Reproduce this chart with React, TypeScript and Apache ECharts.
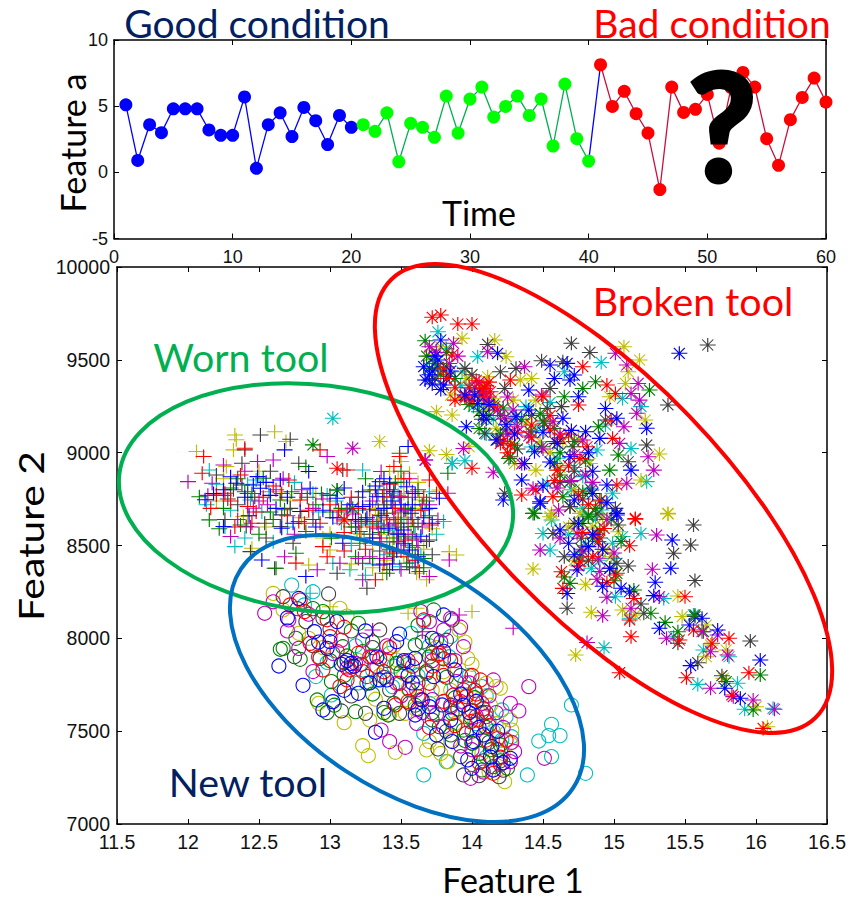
import React, { useEffect, useRef } from "react";
import * as echarts from "echarts";

const goodValues = [5.1,0.9,3.6,3.0,4.8,4.8,4.8,3.2,2.8,2.8,5.7,0.3,3.6,4.5,2.7,4.9,3.9,2.1,4.3,3.4];
const wornValues = [3.6,3.1,4.5,0.8,3.7,3.4,2.65,5.76,2.97,5.54,6.44,4.18,4.98,5.76,4.3,5.54,1.99,6.67,2.54,0.85];
const badValues = [8.13,4.98,6.12,4.43,2.97,-1.3,6.44,4.53,4.76,5.89,2.2,6.4,7.55,6.44,2.54,0.53,3.98,5.66,7.12,5.31];

const colorBlue = "#0000ff", colorGreen = "#008000", colorRed = "#ff0000", colorCyan = "#00bfbf", colorMagenta = "#bf00bf", colorYellow = "#bfbf00", colorGray = "#404040";

const newBlue = [12.64,7851,12.81,7747,12.78,8215,12.95,7614,13.02,7659,13.2,7704,13.32,7494,13.38,7623,13.49,8023,13.47,7982,12.89,8036,13.05,8090,13.0,7982,12.98,7946,13.15,7865,13.4,7776,13.6,7892,13.8,8126,13.73,7794,13.65,7668,13.79,7641,13.86,7444,13.97,7345,14.15,7291,14.27,7354,14.01,7444,13.6,7587,13.35,7776,14.14,7417,13.7,7632,13.12,7880,13.94,7640,14.05,7520,
12.7,8110,12.92,7980,13.08,7860,13.17,7850,13.25,8040,13.33,7900,13.52,7880,13.58,7760,13.72,8000,13.8,7930,13.88,7830,13.92,7700,13.98,7600,14.03,7660,14.08,7480,14.13,7360,14.18,7500,14.22,7330,14.0,7300,13.85,7560,13.75,7480,13.62,7620,13.55,7800,13.28,7760,13.1,7720];
const newGreen = [12.65,7941,12.79,7887,12.91,7668,13.18,7605,13.41,7587,13.73,8153,12.95,8144,13.2,8081,13.09,7955,13.01,7767,13.6,7964,13.23,7928,13.75,7991,13.68,7812,13.86,7596,14.0,7435,14.07,7291,14.15,7309,13.94,7506,13.77,7524,13.56,7722,13.26,7758,12.67,7946,13.99,7578,14.2,7426,13.47,7865,13.12,7905,13.03,7640,13.38,7600,
12.76,8000,12.88,8160,13.0,7880,13.15,8040,13.1,7800,13.3,7980,13.4,7880,13.5,7820,13.62,8070,13.7,7900,13.82,7790,13.88,7680,13.95,7450,14.02,7680,14.05,7380,14.1,7520,14.13,7400,14.2,7340,14.25,7300,13.85,7480,13.72,7600,13.6,7640,13.3,7700,13.45,7650,12.98,7600];
const newRed = [12.82,8144,13.66,8099,13.26,7794,13.07,7740,13.12,7776,13.49,7758,13.46,7641,13.87,7695,13.96,7686,13.99,7551,14.04,7560,14.1,7452,14.15,7273,13.77,7919,13.0,8009,13.3,7901,13.7,7758,12.95,7830,13.62,7686,13.94,7722,14.06,7776,12.79,8206,12.86,7973,14.24,7452,13.23,7821,13.35,7890,13.64,7670,14.0,7610,13.76,7910,
12.72,8180,12.92,7900,13.05,7930,13.14,7830,13.2,7920,13.38,7820,13.42,7950,13.55,7660,13.58,7850,13.72,7850,13.8,7800,13.85,7880,13.9,7620,14.0,7800,14.03,7700,14.08,7620,14.12,7530,14.18,7460,14.2,7360,14.05,7330,13.88,7530,13.7,7520,13.8,7660,13.1,8060,12.98,8100];
const newCyan = [14.70,7641,14.56,7537,14.47,7447,14.54,7476,14.62,7476,14.56,7363,14.39,7264,14.80,7273,13.66,7264,13.82,7336,12.73,8287,14.21,7614,13.66,8090,14.24,7578,12.9,7794,13.01,7695,13.66,7488,14.07,7740,13.42,7919,14.21,7452,13.84,7901,13.33,7776,13.57,8027,12.88,8251,14.03,7540,13.95,7760,
12.82,8180,12.98,7870,13.18,7960,13.3,7830,13.44,7740,13.55,7860,13.7,7960,13.78,7730,13.88,7600,13.98,7800,14.1,7690,14.12,7550,14.15,7500,14.28,7470,14.1,7360,13.7,7650,13.62,7800,13.2,7760,13.45,7850,13.85,8010];
const newMagenta = [12.54,8135,14.40,7740,14.27,7650,14.33,7609,14.51,7354,13.42,7444,13.53,7413,13.36,7506,13.99,7246,14.30,7390,14.27,7336,12.71,8099,12.6,8197,12.78,7946,12.88,7821,13.02,7919,13.23,7991,13.64,8144,13.85,8108,13.8,8045,13.94,7955,13.89,7767,14.15,7776,14.07,7650,13.61,7542,13.8,7524,13.61,7722,13.47,7758,13.33,7847,13.18,7865,14.1,7578,13.72,7670,13.92,8060,14.0,7400,
12.7,8040,12.85,8130,13.08,7990,13.12,7840,13.28,7900,13.4,7960,13.55,7880,13.7,8090,13.72,7880,13.78,7980,13.88,7880,13.92,7660,13.98,7760,14.03,7580,14.12,7690,14.17,7600,14.22,7520,14.2,7320,14.28,7440,14.08,7280,13.85,7630,13.75,7590,13.65,7600,13.5,7690,13.92,7420,14.0,7500];
const newYellow = [12.6,8242,13.23,7422,13.27,7368,13.46,7386,13.1,7546,12.92,7650,13.32,7672,13.53,7596,13.7,7444,13.68,7399,13.83,7336,14.23,7228,14.27,7435,13.91,8045,13.97,7892,13.07,8162,12.78,8027,13.47,7883,14.1,7758,14.17,7740,14.2,7731,14.28,7506,14.1,7470,13.96,7695,12.67,8153,14.27,7560,13.85,7880,13.55,7730,13.42,7590,14.07,7380,13.9,7620,
12.85,8000,12.95,7950,13.12,8120,13.2,7880,13.35,7800,13.52,7810,13.62,7880,13.72,7720,13.8,7820,13.85,7720,14.0,7860,14.05,7670,14.13,7640,14.17,7540,14.22,7380,14.12,7280,14.02,7560,13.85,7450,13.78,7380,13.6,7620,13.28,7560,13.75,7950,13.95,7980,13.45,7960,13.88,7540];
const newGray = [12.99,8239,12.67,8224,12.75,7901,13.08,7609,13.25,7596,13.35,8045,13.76,7404,13.94,7264,14.19,7255,13.86,8099,13.15,7847,12.93,7892,13.68,7821,13.56,7650,13.49,7596,14.0,7435,13.92,7363,12.95,8108,12.83,8090,13.42,7722,13.96,7488,13.8,7890,14.08,7340,
12.77,8160,12.88,7960,13.0,8050,13.1,7870,13.22,7860,13.3,7950,13.38,7790,13.52,7870,13.62,7760,13.72,7920,13.82,7990,13.85,7640,13.92,7800,14.02,7720,14.07,7600,14.12,7440,14.18,7400,14.22,7290,14.05,7260,13.82,7500,13.72,7560,13.15,7690,13.65,7980,14.1,7600];

const wornBlue = [12.68,9015,13.55,9033,12.49,8871,12.51,8808,12.46,8826,12.65,8853,12.34,8835,12.85,8898,12.86,8808,13.05,8754,13.23,8790,13.33,8763,13.42,8835,13.54,8817,13.77,8754,12.25,8602,12.66,8593,12.52,8422,13.09,8512,13.52,8584,13.56,8476,12.83,8333,13.35,8395,13.23,8710,12.79,8683,13.57,8674,12.12,8746,13.38,8700,
12.3,8870,12.4,8760,12.55,8840,12.7,8760,12.95,8690,13.1,8810,13.18,8640,13.28,8720,13.32,8820,13.36,8660,13.41,8590,13.45,8790,13.5,8720,13.47,8470,13.52,8510,13.6,8780,13.62,8440,13.66,8650,13.44,8400,13.3,8540,13.38,8860,13.7,8700,12.62,8700,12.9,8600,12.25,8800,
12.18,8780,12.43,8660,12.58,8770,12.74,8620,13.02,8650,13.14,8720,13.26,8650,13.43,8740,13.48,8560,13.58,8720,13.64,8550,13.72,8620];
const wornGreen = [12.15,8638,12.08,8763,12.65,8745,12.68,8692,12.53,8862,12.83,8925,13.05,8799,12.76,8458,12.62,8378,13.49,8997,13.83,8889,13.4,8674,13.54,8404,13.21,8512,12.83,8575,13.59,8602,13.01,8539,13.28,8799,12.4,8790,13.45,8540,13.66,8430,
12.25,8700,12.37,8610,12.45,8780,12.58,8680,12.73,8790,12.9,8720,13.0,8680,13.15,8600,13.25,8860,13.33,8620,13.38,8780,13.42,8480,13.46,8840,13.5,8620,13.55,8700,13.58,8490,13.62,8800,13.66,8380,13.7,8660,13.4,8350,13.3,8430,13.18,8440,13.5,8900,12.5,8560,12.35,8860,
12.22,8590,12.3,8810,12.6,8640,12.8,8780,12.94,8780,13.08,8700,13.22,8630,13.36,8570,13.44,8760,13.52,8550,13.6,8450,13.68,8740];
const wornRed = [12.11,8979,12.40,9024,12.10,8889,12.2,8772,12.26,8781,12.42,8710,12.71,8853,12.79,8745,12.78,8629,12.93,9015,13.12,8907,13.21,8575,12.95,8494,13.32,8315,13.63,8360,13.28,8692,13.7,8853,13.49,8979,12.98,8440,13.37,8763,12.76,8405,13.45,8925,13.48,8640,13.1,8470,
12.3,8740,12.37,8880,12.53,8760,12.6,8820,12.85,8690,12.93,8620,13.0,8720,13.15,8760,13.3,8600,13.35,8540,13.42,8830,13.44,8460,13.5,8760,13.53,8530,13.58,8640,13.62,8420,13.66,8760,13.7,8610,13.38,8400,13.25,8480,13.52,8860,12.45,8620,12.7,8660,13.1,8570,13.75,8780,
12.16,8700,12.33,8600,12.48,8680,12.66,8780,12.82,8620,13.06,8690,13.2,8700,13.32,8800,13.4,8650,13.46,8700,13.55,8440,13.64,8690];
const wornCyan = [12.15,8907,12.13,8719,12.33,8494,13.23,8907,12.98,8772,12.88,8781,12.48,8853,12.44,8745,13.14,8369,13.02,8404,13.8,8629,13.67,8692,13.19,8566,13.49,8386,12.86,8243,13.4,8520,13.6,8560,
12.2,8830,12.3,8690,12.42,8830,12.57,8790,12.75,8840,12.92,8680,13.08,8620,13.2,8690,13.28,8610,13.34,8780,13.4,8450,13.45,8720,13.5,8840,13.55,8500,13.6,8690,13.64,8450,13.7,8790,13.75,8560,13.3,8400,13.25,8340,12.6,8520,12.4,8540,13.52,8650,13.15,8500,13.44,8580,
12.26,8600,12.52,8680,12.7,8600,13.04,8740,13.24,8540,13.36,8610,13.48,8770,13.58,8410];
const wornMagenta = [12.0,8844,12.25,8934,12.17,8835,12.6,8961,12.49,8952,12.67,8862,12.46,8701,12.3,8548,12.68,8440,13.36,8898,13.83,8781,13.84,8422,12.91,8369,13.12,8692,13.47,8566,13.7,8333,13.49,8763,13.23,8315,13.07,8404,13.28,8440,13.61,8530,12.98,8979,13.55,8620,13.42,8610,13.3,8630,13.91,8126,14.29,8054,13.3,8045,13.65,8036,
12.25,8770,12.35,8640,12.4,8900,12.56,8720,12.8,8800,12.95,8750,13.05,8650,13.2,8620,13.3,8740,13.36,8520,13.4,8800,13.44,8700,13.5,8470,13.52,8690,13.56,8860,13.6,8420,13.65,8600,13.7,8720,13.76,8640,13.38,8430,13.5,8370,13.2,8430,12.75,8560,12.5,8740,13.62,8500,13.55,8560,13.45,8640,
12.14,8770,12.44,8600,12.62,8800,12.88,8700,13.16,8670,13.34,8590,13.47,8520,13.58,8790];
const wornYellow = [12.06,9006,12.33,9095,12.34,9069,12.61,9113,12.32,9015,12.27,8925,12.69,9060,12.39,8656,12.45,8485,12.85,8395,13.5,8952,13.63,8745,13.77,8799,13.35,8665,13.4,8638,13.45,8674,13.45,8458,13.84,8467,13.89,8449,13.68,8315,13.61,8350,13.37,8350,13.56,8889,13.0,8476,13.0,8566,13.55,8135,14.0,8144,13.61,8162,13.0,8170,13.5,8560,13.45,8780,
12.25,8860,12.42,8660,12.5,8900,12.65,8790,12.8,8650,13.1,8630,13.22,8560,13.3,8500,13.34,8640,13.38,8720,13.42,8560,13.47,8620,13.52,8440,13.52,8780,13.57,8600,13.6,8700,13.62,8840,13.66,8480,13.72,8590,13.4,8420,13.3,8380,13.15,8400,12.95,8540,13.48,8860,13.42,8900,
12.2,8740,12.55,8600,12.72,8740,12.9,8780,13.26,8620,13.32,8700,13.44,8520,13.54,8650];
const wornGray = [12.51,9095,12.72,9072,12.40,9015,12.78,8943,12.38,8943,12.2,8880,12.38,8826,12.32,8800,12.41,8602,12.54,8620,12.65,8602,12.44,8467,12.74,8512,12.66,8665,13.09,8907,13.35,8844,13.26,8270,13.05,8350,12.61,8378,13.53,8692,13.23,8404,13.68,8521,13.56,8386,13.48,8520,
12.28,8750,12.35,8720,12.47,8760,12.58,8900,12.72,8700,12.88,8640,13.0,8770,13.12,8680,13.2,8760,13.28,8560,13.34,8690,13.38,8600,13.42,8800,13.45,8440,13.5,8680,13.55,8760,13.58,8540,13.6,8380,13.65,8720,13.72,8450,13.42,8370,13.35,8470,13.25,8640,12.55,8540,13.5,8600,
12.26,8640,12.42,8780,12.84,8760,13.18,8600,13.4,8720,13.46,8620,13.62,8620,13.7,8530];

const brokenBlue = [15.46,9535,13.78,9607,13.66,9463,13.67,9391,13.8,9364,13.76,9499,14.55,9472,14.67,9481,14.58,9400,14.69,9391,14.72,9418,14.18,9535,14.04,9265,14.31,9194,14.4,9337,14.75,9301,14.94,9238,15.02,9185,14.64,9185,14.8,9113,14.69,8978,14.44,9005,14.37,8942,14.35,8853,14.22,8745,14.48,8736,14.9,9077,15.12,8906,14.95,8826,14.72,8745,15.02,8673,15.23,9131,13.96,9140,14.17,9068,15.41,8530,15.4,8377,15.29,8302,15.11,8251,15.28,8230,14.62,8583,14.67,8242,14.74,8368,14.97,8377,14.75,8619,15.02,8664,15.32,8054,15.53,8072,15.62,8108,15.73,8045,15.54,7853,16.03,7883,15.78,7731,15.89,7677,14.48,8727,14.82,8494,14.68,8512,13.72,9440,14.02,9310,14.1,9180,
13.7,9420,13.74,9520,13.85,9440,13.72,9370,13.78,9340,13.95,9310,14.08,9200,14.12,9260,14.24,9150,14.3,9100,14.4,9230,14.5,9110,14.6,9050,14.7,9120,14.82,9000,14.55,8950,14.5,8820,14.85,8780,14.85,8900,14.95,8730,14.85,8560,14.92,8480,14.72,8450,14.92,8280,15.05,8270];
const brokenGreen = [13.67,9603,15.25,9337,13.82,9463,13.7,9454,14.15,9257,14.65,9301,14.87,9382,14.78,9346,14.89,9140,14.97,8906,15.03,8987,14.49,9032,14.41,9113,14.58,8942,14.69,8844,14.91,8745,14.64,8763,14.43,8673,14.82,8655,14.26,8969,14.51,9158,14.69,8296,15.26,8135,15.36,8086,15.45,8036,15.57,8126,15.14,8260,15.05,8521,16.03,7803,15.79,7767,15.63,8036,14.82,8664,14.76,8440,14.44,8673,15.02,8350,15.98,7614,13.78,9420,14.2,9100,14.05,9130,12.88,9042,13.05,8799,13.16,8701,
13.68,9520,13.74,9480,13.88,9400,13.82,9540,13.98,9260,14.05,9220,14.12,9200,14.22,9240,14.3,9040,14.35,9180,14.48,9210,14.58,9130,14.62,9000,14.72,9060,14.8,8960,14.62,8880,14.78,8790,14.87,8700,14.78,8620,14.85,8540,14.9,8580,14.77,8480,14.65,8330,15.0,8310,14.98,8640];
const brokenRed = [13.78,9741,13.72,9729,13.90,9693,14.0,9693,13.86,9526,13.82,9400,14.07,9346,14.13,9328,13.88,9283,14.27,9391,14.78,9463,14.5,9301,14.75,9257,15.01,9319,14.95,9364,14.98,9176,14.99,9077,14.55,9122,14.27,9041,14.42,9149,14.0,8916,14.81,9032,14.76,8969,14.6,8906,14.35,8772,14.45,8799,14.57,8763,15.15,8646,15.02,8826,15.15,8641,14.63,8359,14.64,8269,14.93,8592,15.11,8499,14.89,8521,14.76,8413,15.01,8341,15.14,8215,15.5,8224,15.12,8009,15.04,7815,15.11,8099,15.56,8045,15.81,8000,15.46,7991,15.95,7815,15.51,7788,15.83,7695,16.05,7515,15.69,7973,14.1,9360,14.05,9330,14.22,9060,14.75,8390,13.05,8916,13.1,8638,
13.8,9450,13.88,9350,13.95,9300,13.98,9350,14.0,9280,14.03,9390,14.08,9300,14.12,9380,14.16,9250,14.2,9050,14.25,9000,14.32,9110,14.42,9080,14.55,9200,14.62,9080,14.68,9100,14.58,8850,14.68,8930,14.75,8770,14.82,8720,14.9,8740,14.78,8570,14.88,8560,14.85,8440,14.95,8300];
const brokenCyan = [14.91,9486,14.04,9517,13.93,9436,13.86,8942,13.95,8957,13.76,9651,13.92,9364,15.19,9248,15.12,9023,14.65,9436,14.94,9149,14.88,9014,14.53,8835,14.83,8808,14.99,8781,14.91,8691,14.01,9248,14.38,9248,15.06,9292,14.78,8871,15.23,8844,14.5,8565,14.55,8476,14.93,7950,15.19,8565,14.99,8512,14.84,8377,15.01,8224,15.11,8108,15.56,8126,15.42,8009,15.87,7758,15.59,7752,15.63,7937,15.81,7901,15.92,7618,16.12,7623,15.06,8548,14.56,8637,15.35,8215,13.02,9185,13.86,8943,
13.72,9500,13.82,9560,13.98,9360,14.05,9300,14.08,9260,14.15,9180,14.3,9180,14.42,9030,14.55,9270,14.6,8970,14.72,8920,14.7,8800,14.78,8700,14.87,8640,14.8,8500,14.9,8420,15.0,8430,14.68,8560,14.45,9120,14.1,9100];
const brokenMagenta = [15.09,9472,15.01,9535,15.17,9373,15.12,9319,15.18,9283,15.16,9212,15.07,9140,15.04,9050,15.24,8978,15.28,8906,15.09,8835,14.11,9544,14.37,9463,13.87,9589,14.09,9346,14.23,9185,13.94,9023,14.15,8894,14.57,9167,14.78,9068,14.8,8880,14.43,8808,14.29,9230,14.49,9310,13.67,8960,14.61,8691,14.48,8476,15.3,8556,15.27,8372,14.95,8221,14.92,8122,14.81,7977,14.88,8318,14.74,8565,14.89,8431,15.12,8162,15.37,8000,15.73,8018,15.8,7910,15.68,7928,15.68,7731,15.98,7668,16.13,7618,15.84,7686,15.62,8036,15.32,8224,13.16,9024,13.67,8961,14.08,9320,14.12,9300,
13.7,9570,13.75,9540,13.84,9480,13.9,9520,13.96,9300,14.02,9350,14.05,9380,14.1,9280,14.18,9230,14.25,9300,14.32,9140,14.4,9090,14.5,9020,14.62,9100,14.72,8990,14.6,8810,14.7,8850,14.85,8840,14.95,8640,14.62,8540,14.78,8470,14.9,8360,15.0,8460,14.35,8940,14.25,9100];
const brokenYellow = [14.16,9607,14.24,9517,13.93,9616,15.07,9571,15.18,9499,15.1,9436,15.08,9373,14.97,9301,15.22,9176,15.32,8993,15.19,8853,15.38,8673,13.98,9032,13.75,9221,13.86,9203,13.72,9553,14.11,9409,13.92,9292,14.34,9391,14.42,9400,14.45,9283,14.29,9283,14.17,9131,14.3,8942,14.45,8906,14.64,9059,14.83,8942,14.56,8673,15.38,8670,14.43,8373,14.8,8291,14.84,8140,14.73,7910,15.06,8153,15.45,8228,15.48,8117,15.68,7964,15.79,7937,15.65,7901,15.77,7785,16.0,7632,16.08,7524,14.94,8476,14.76,8673,14.55,8655,15.03,8574,15.15,8126,15.65,8072,13.35,9060,13.82,8990,13.7,9010,
13.7,9520,13.78,9570,13.85,9310,13.96,9400,14.08,9360,14.15,9290,14.25,9180,14.38,9160,14.48,9060,14.55,9000,14.28,9050,14.75,9070,14.62,8920,14.72,8800,14.85,8600,14.92,8650,14.68,8600,14.72,8420,14.98,8440,14.1,9230];
const brokenGray = [14.70,9589,14.83,9540,15.66,9580,15.38,9257,15.23,9041,15.1,8951,14.49,9495,14.64,9490,14.11,9583,14.2,9436,14.31,9454,14.55,9346,13.74,9400,13.95,9454,14.23,9346,14.53,9238,14.63,9248,14.09,9104,14.24,9122,14.94,9176,14.71,9032,14.84,8799,14.27,8978,15.01,8700,14.69,8709,14.23,8781,15.56,8610,15.54,8503,15.42,8458,15.57,8311,14.67,8162,15.96,7986,15.21,8135,15.19,8185,15.59,7869,15.76,7799,15.45,7973,14.57,8565,15.02,8404,14.97,8377,14.77,8539,15.03,8610,14.69,8709,15.57,8117,
13.76,9460,13.7,9390,13.84,9410,14.0,9420,14.07,9180,14.2,9200,14.18,9070,14.32,9020,14.42,9200,14.5,9170,14.58,9060,14.72,8900,14.62,8840,14.78,8750,14.88,8670,14.72,8620,14.9,8540,14.82,8420,14.65,8440,15.1,8390];

const pairs = (flat: number[]) => {
  const out: number[][] = [];
  for (let i = 0; i < flat.length; i += 2) out.push([flat[i], flat[i + 1]]);
  return out;
};
const indexed = (vals: number[], start: number) => vals.map((v, i) => [start + i, v]);

const PLUS = "path://M0 7H16M8 0V14";
const STAR = "path://M0 7H16M8 0V14M2.5 1.5L13.5 12.5M2.5 12.5L13.5 1.5";
const AXIS = { lineStyle: { color: "#000", width: 1.5 }, onZero: false };
const LABEL = "Liberation Sans";
const plain = (v: number) => String(v);

function box(grid: number, xr: number[], yr: number[], xi: number, yi: number, fs: number, xm: number, ym: number) {
  const tick = { show: true, inside: true, length: 5, lineStyle: { color: "#000", width: 1 } };
  const common = { gridIndex: grid, type: "value", splitLine: { show: false }, axisLine: { show: true, ...AXIS }, axisTick: tick };
  return {
    x: [
      { ...common, position: "bottom", min: xr[0], max: xr[1], interval: xi, axisLabel: { fontFamily: LABEL, fontSize: fs, color: "#111", margin: xm, hideOverlap: false, formatter: plain } },
      { ...common, position: "top", min: xr[0], max: xr[1], interval: xi, axisLabel: { show: false } },
    ],
    y: [
      { ...common, position: "left", min: yr[0], max: yr[1], interval: yi, axisLabel: { fontFamily: LABEL, fontSize: fs, color: "#111", margin: ym, hideOverlap: false, formatter: plain } },
      { ...common, position: "right", min: yr[0], max: yr[1], interval: yi, axisLabel: { show: false } },
    ],
  };
}

function marks(name: string, symbol: string, size: any, color: string, flat: number[]) {
  return {
    name, type: "scatter", xAxisIndex: 2, yAxisIndex: 2, symbol, symbolSize: size, data: pairs(flat), silent: true,
    itemStyle: { color: "transparent", borderColor: color, borderWidth: 1.1, opacity: 1 },
  };
}

function timeLine(name: string, vals: number[], start: number, lineColor: string, dot: string) {
  return {
    name, type: "line", xAxisIndex: 0, yAxisIndex: 0, data: indexed(vals, start), symbol: "circle", symbolSize: 13,
    showSymbol: true, lineStyle: { color: lineColor, width: 1.3 }, itemStyle: { color: dot }, silent: true,
  };
}

function word(text: string, x: number, y: number, size: number, fill: string, rotation = 0, extra: any = {}, scaleX = 1) {
  return { type: "text", x, y, z: 200, rotation, scaleX, silent: true, style: { text, fontFamily: "Lato", fontSize: size, fill, align: "center", verticalAlign: "middle", ...extra } };
}

function ring(cx: number, cy: number, rx: number, ry: number, deg: number, stroke: string) {
  return { type: "ellipse", x: cx, y: cy, rotation: (-deg * Math.PI) / 180, z: 100, silent: true, shape: { cx: 0, cy: 0, rx, ry }, style: { fill: "none", stroke, lineWidth: 4 } };
}

export default function App() {
  const ref = useRef<HTMLDivElement>(null);
  useEffect(() => {
    const chart = echarts.init(ref.current!, null, { renderer: "svg" });
    const top = box(0, [0, 60], [-5, 10], 10, 5, 18, 9, 6);
    const main = box(1, [11.5, 16.5], [7000, 10000], 0.5, 500, 19.5, 8, 7);
    const colors: [string, number[], number[], number[]][] = [
      [colorCyan, newCyan, wornCyan, brokenCyan],
      [colorYellow, newYellow, wornYellow, brokenYellow],
      [colorGray, newGray, wornGray, brokenGray],
      [colorGreen, newGreen, wornGreen, brokenGreen],
      [colorMagenta, newMagenta, wornMagenta, brokenMagenta],
      [colorRed, newRed, wornRed, brokenRed],
      [colorBlue, newBlue, wornBlue, brokenBlue],
    ];
    const scat: any[] = [];
    colors.forEach(([c, n, w, b]) => {
      scat.push(marks("New tool", "circle", 14, c, n));
      scat.push(marks("Worn tool", PLUS, [16, 14], c, w));
      scat.push(marks("Broken tool", STAR, [16, 14], c, b));
    });
    chart.setOption({
      animation: false,
      backgroundColor: "#fff",
      grid: [
        { left: 114, top: 40, width: 712, height: 198.5, containLabel: false },
        { left: 117, top: 267, width: 710, height: 557, containLabel: false },
      ],
      xAxis: [...top.x, ...main.x],
      yAxis: [...top.y, ...main.y],
      series: [
        timeLine("Good condition", goodValues, 1, colorBlue, colorBlue),
        { ...timeLine("Transition", [wornValues[19], badValues[0]], 40, colorBlue, colorBlue), symbol: "none" },
        timeLine("Worn condition", wornValues, 21, "#00b050", "#00ff00"),
        timeLine("Bad condition", badValues, 41, "#c8103c", colorRed),
        ...scat,
      ],
      graphic: [
        ring(316, 498, 198, 113, 7, "#00b050"),
        ring(407, 678.5, 199, 111, 33.4, "#0070c0"),
        ring(603.5, 498.5, 305, 119, 46, "#ff0000"),
        word("Good condition", 257, 23, 39, "#002060"),
        word("Bad condition", 712, 23, 39, "#ff0000"),
        word("Time", 479, 212, 34, "#000"),
        word("Feature a", 72, 143, 34, "#000", Math.PI / 2),
        word("Feature 2", 31, 536, 34, "#000", Math.PI / 2, {}, 1.2),
        word("Feature 1", 513, 879, 34, "#000"),
        word("Worn tool", 241, 356, 39.4, "#00b050"),
        word("Broken tool", 693, 300, 39.4, "#ff0000"),
        word("New tool", 248, 781, 39.4, "#002060"),
        word("?", 722, 124, 150, "#000", 0, { fontWeight: 900, stroke: "#000", lineWidth: 3 }),
      ],
    });
    return () => chart.dispose();
  }, []);
  return <div ref={ref} style={{ position: "fixed", left: 0, top: 0, width: 856, height: 901 }} />;
}
